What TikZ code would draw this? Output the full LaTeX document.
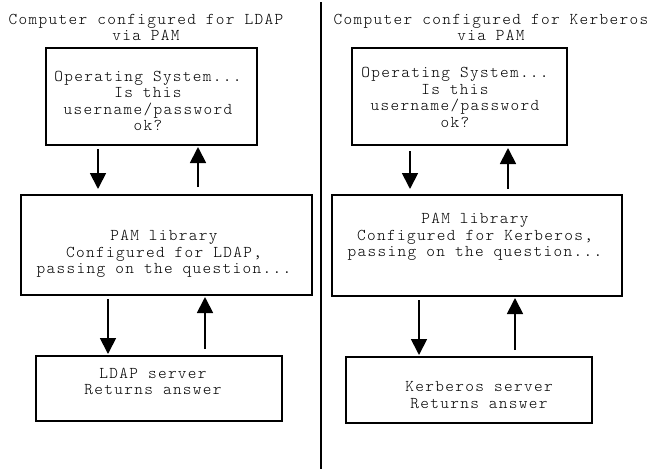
\documentclass[tikz,border=0pt]{standalone}
\usepackage{fontspec}
\setmonofont[LetterSpace=8.1]{Latin Modern Mono Light}
\usetikzlibrary{arrows.meta}
\begin{document}
\begin{tikzpicture}[x=1pt,y=-1pt,
  box/.style={draw,line width=2pt,minimum width=#1,inner sep=0pt},
  txt/.style={font=\ttfamily\fontsize{16.5}{16.6}\selectfont,align=center,inner sep=0pt},
  arr/.style={line width=1.8pt,-{Triangle[width=16pt,length=16pt]}}]
\useasboundingbox (0,0) rectangle (666,469);
% divider
\draw[line width=2pt] (321,2) -- (321,469);
% left column
\node[txt] (t1) at (146,27.5) {Computer configured for LDAP\\via PAM};
\node[box=211pt,minimum height=97pt] (os1) at (151.5,96.5) {};
\node[txt] at (148,101) {Operating System...\\Is this\\username/password\\ok?};
\node[box=291pt,minimum height=100pt] (pam1) at (166.5,245) {};
\node[txt] at (164,254) {PAM library\\Configured for LDAP,\\passing on the question...};
\node[box=246pt,minimum height=65pt] (srv1) at (159,388.5) {};
\node[txt] at (153,381.5) {LDAP server\\Returns answer};
\draw[arr,shorten <=3pt,shorten >=5pt] (os1.south -| 98,0) -- (pam1.north -| 98,0);
\draw[arr,shorten <=7pt,shorten >=1pt] (pam1.north -| 198,0) -- (os1.south -| 198,0);
\draw[arr,shorten <=3pt,shorten >=1pt] (pam1.south -| 108,0) -- (srv1.north -| 108,0);
\draw[arr,shorten <=6pt,shorten >=1pt] (srv1.north -| 205,0) -- (pam1.south -| 205,0);
% right column
\node[txt] (t2) at (491,27.5) {Computer configured for Kerberos\\via PAM};
\node[box=215pt,minimum height=97pt] (os2) at (459.5,96.5) {};
\node[txt] at (455,97.5) {Operating System...\\Is this\\username/password\\ok?};
\node[box=290pt,minimum height=101pt] (pam2) at (477,245.5) {};
\node[txt] at (475,237) {PAM library\\Configured for Kerberos,\\passing on the question...};
\node[box=246pt,minimum height=66pt] (srv2) at (469,390) {};
\node[txt] at (479,395) {Kerberos server\\Returns answer};
\draw[arr,shorten <=5pt,shorten >=5pt] (os2.south -| 410,0) -- (pam2.north -| 410,0);
\draw[arr,shorten <=5pt,shorten >=2pt] (pam2.north -| 508,0) -- (os2.south -| 508,0);
\draw[arr,shorten <=3pt,shorten >=1pt] (pam2.south -| 419,0) -- (srv2.north -| 419,0);
\draw[arr,shorten <=6pt,shorten >=1pt] (srv2.north -| 515,0) -- (pam2.south -| 515,0);
\end{tikzpicture}
\end{document}
